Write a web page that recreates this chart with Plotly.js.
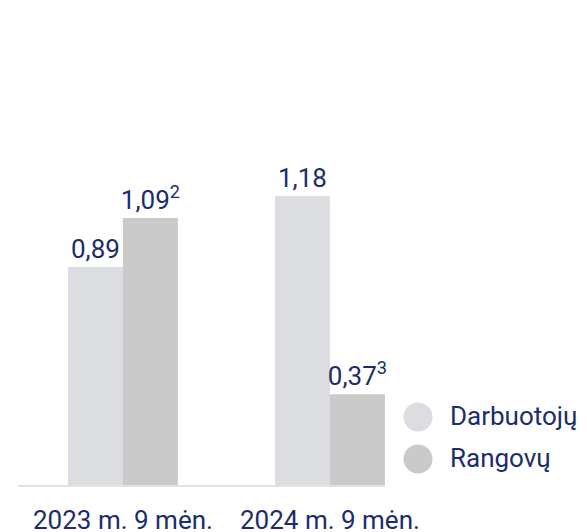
<!DOCTYPE html>
<html><head><meta charset="utf-8">
<script src="https://cdn.plot.ly/plotly-3.0.1.min.js"></script>
<style>html,body{margin:0;padding:0;background:#fff}#chart{width:587px;height:532px}</style>
</head><body><div id="chart"></div>
<script>
var categories = ['2023 m. 9 mėn.', '2024 m. 9 mėn.'];
var seriesNames = ['Darbuotojų', 'Rangovų'];
var darbuotoju = [0.89, 1.18];
var rangovu = [1.09, 0.37];
var darbuotojuLabels = ['0,89', '1,18'];
var rangovuLabels = ['1,09<sup>2</sup>', '0,37<sup>3</sup>'];

var navy = '#1b2d6b';
var colors = ['#dcdde0', '#cacaca'];
var font = 'Roboto, "Open Sans", sans-serif';
var fw = 400;
var fs = 26;

var traces = [
  {type:'bar', x:categories, y:darbuotoju, name:seriesNames[0], text:darbuotojuLabels,
   textposition:'outside', constraintext:'none', textfont:{color:navy,size:fs,family:font,weight:fw}, marker:{color:colors[0]},
   showlegend:false, hoverinfo:'skip', cliponaxis:false},
  {type:'bar', x:categories, y:rangovu, name:seriesNames[1], text:rangovuLabels,
   textposition:'outside', constraintext:'none', textfont:{color:navy,size:fs,family:font,weight:fw}, marker:{color:colors[1]},
   showlegend:false, hoverinfo:'skip', cliponaxis:false}
];

var W = 587, H = 532, L = 18, R = 202, T = 142, B = 47;
var pw = W - L - R, ph = H - T - B;
function px(x){ return (x - L) / pw; }
function py(y){ return (H - B - y) / ph; }

var shapes = [], annotations = [];
[417, 459].forEach(function(cy, i){
  shapes.push({type:'circle', xref:'paper', yref:'paper',
    x0:px(403.5), x1:px(432.5), y0:py(cy+14.5), y1:py(cy-14.5),
    fillcolor:colors[i], line:{width:0}});
  annotations.push({xref:'paper', yref:'paper', x:px(448), y:py(cy-1), xanchor:'left', yanchor:'middle',
    text:seriesNames[i], showarrow:false, font:{color:navy,size:fs,family:font,weight:fw}});
});

var layout = {
  width:W, height:H, margin:{l:L, r:R, t:T, b:B},
  paper_bgcolor:'#fff', plot_bgcolor:'#fff',
  barmode:'group', bargap:0.469, bargroupgap:0,
  font:{family:font, color:navy},
  xaxis:{type:'category', range:[-0.507, 1.266], ticks:'', tickangle:0, ticklabelstandoff:11,
    tickfont:{size:fs, color:navy, family:font, weight:fw},
    showline:true, linecolor:'#e2e2e2', linewidth:2, showgrid:false, zeroline:false},
  yaxis:{range:[0, 1.4], visible:false, showgrid:false, zeroline:false},
  shapes:shapes, annotations:annotations, showlegend:false
};

Plotly.newPlot('chart', traces, layout, {displayModeBar:false, staticPlot:true});
</script></body></html>
